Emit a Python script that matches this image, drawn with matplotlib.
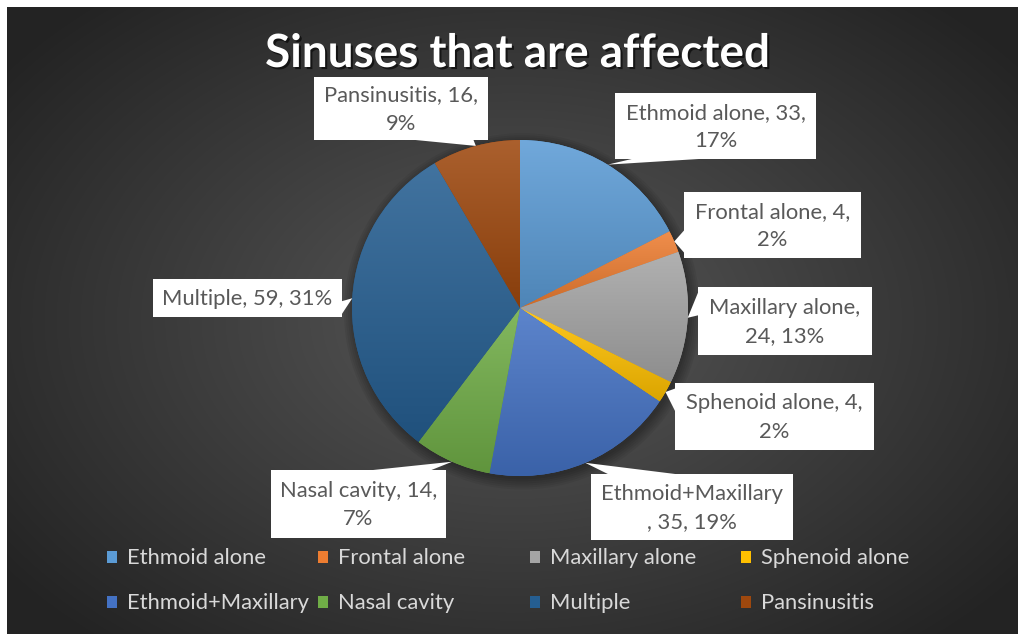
import numpy as np
import matplotlib
matplotlib.use('Agg')
import matplotlib.pyplot as plt
import matplotlib.patheffects as pe
from matplotlib.patches import Rectangle, Polygon, Circle
from matplotlib.colors import to_rgb

plt.rcParams['font.family'] = ['Lato', 'DejaVu Sans']

# data
categories = ['Ethmoid alone', 'Frontal alone', 'Maxillary alone', 'Sphenoid alone',
              'Ethmoid+Maxillary', 'Nasal cavity', 'Multiple', 'Pansinusitis']
counts = [33, 4, 24, 4, 35, 14, 59, 16]
percents = ['17%', '2%', '13%', '2%', '19%', '7%', '31%', '9%']
colors = ['#5B9BD5', '#ED7D31', '#A5A5A5', '#FFC000',
          '#4472C4', '#70AD47', '#255E91', '#9E480E']

# how each data label wraps (as in the picture)
label_texts = [
    'Ethmoid alone, 33,\n17%',
    'Frontal alone, 4,\n2%',
    'Maxillary alone,\n24, 13%',
    'Sphenoid alone, 4,\n2%',
    'Ethmoid+Maxillary\n, 35, 19%',
    'Nasal cavity, 14,\n7%',
    'Multiple, 59, 31%',
    'Pansinusitis, 16,\n9%',
]
# label boxes in pixels (x0, y0, x1, y1)
label_boxes = [
    (615, 93, 816, 159),
    (684, 192, 861, 258),
    (698, 287, 872, 355),
    (675, 383, 874, 450),
    (591, 474, 793, 540),
    (271, 470, 446, 538),
    (153, 279, 342, 317),
    (314, 77, 488, 140),
]

W, H = 1018, 634
fig = plt.figure(figsize=(W / 100, H / 100), dpi=100)
fig.patch.set_facecolor('white')

# background with radial gradient
bg = fig.add_axes([0, 0, 1, 1])
bg.axis('off')
yy, xx = np.mgrid[7:H, 7:W]
r = np.sqrt(((xx - 515) / 640) ** 2 + ((yy - 320) / 430) ** 2)
t = np.clip(r, 0, 1)[..., None]
inner = np.array([0x58] * 3) / 255
outer = np.array([0x23] * 3) / 255
bg.imshow(inner * (1 - t) + outer * t, extent=[7, W, H, 7], aspect='auto')
bg.set_xlim(0, W)
bg.set_ylim(H, 0)

# pie
cx, cy, R = 520, 308, 168
ax = fig.add_axes([(cx - R) / W, 1 - (cy + R) / H, 2 * R / W, 2 * R / H])
ax.set_zorder(1)
wedges, _ = ax.pie(counts, colors=colors, startangle=90, counterclock=False,
                   radius=1, wedgeprops=dict(linewidth=0))
for w, c in zip(wedges, colors):
    base = np.array(to_rgb(c))
    top = base + (1 - base) * 0.13
    bot = base * 0.86
    g = np.linspace(0, 1, 64)[:, None, None]
    grad = top * (1 - g) + bot * g
    ext = w.get_path().get_extents()
    im = ax.imshow(grad, extent=[ext.x0, ext.x1, ext.y0, ext.y1], origin='upper',
                   aspect='auto', interpolation='bilinear', zorder=2)
    im.set_clip_path(w)
# soft shadow under the pie
for k in range(6):
    ax.add_patch(Circle((0.012, -0.02), 1 + 0.012 * k, color='black',
                        alpha=0.06, zorder=0, linewidth=0))
ax.set_xlim(-1.1, 1.1)
ax.set_ylim(-1.1, 1.1)
ax.set_position([(cx - R * 1.1) / W, 1 - (cy + R * 1.1) / H, 2.2 * R / W, 2.2 * R / H])
ax.set_aspect('equal')
ax.axis('off')

# overlay in pixel coords
ov = fig.add_axes([0, 0, 1, 1])
ov.set_zorder(2)
ov.set_xlim(0, W)
ov.set_ylim(H, 0)
ov.axis('off')
ov.patch.set_alpha(0)


def callout(box, tip, text):
    x0, y0, x1, y1 = box
    bw, bh = x1 - x0, y1 - y0
    xc, yc = (x0 + x1) / 2, (y0 + y1) / 2
    dx, dy = tip[0] - xc, tip[1] - yc
    if abs(dy) * bw > abs(dx) * bh:
        ye = y1 if dy > 0 else y0
        if dx < 0:
            xa, xb = x0 + bw / 12, x0 + 5 * bw / 12
        else:
            xa, xb = x0 + 7 * bw / 12, x0 + 11 * bw / 12
        tri = [(xa, ye), (xb, ye), tip]
    else:
        xe = x1 if dx > 0 else x0
        if dy < 0:
            ya, yb = y0 + bh / 12, y0 + 5 * bh / 12
        else:
            ya, yb = y0 + 7 * bh / 12, y0 + 11 * bh / 12
        tri = [(xe, ya), (xe, yb), tip]
    ov.add_patch(Rectangle((x0, y0), bw, bh, facecolor='white', edgecolor='none'))
    ov.add_patch(Polygon(tri, closed=True, facecolor='white', edgecolor='none'))
    ov.text(xc, yc + 1, text, ha='center', va='center', fontsize=15.8,
            color='#595959', linespacing=1.55, multialignment='center')


fig.canvas.draw()
to_pix = ov.transData.inverted()
for w, box, txt in zip(wedges, label_boxes, label_texts):
    mid = np.deg2rad((w.theta1 + w.theta2) / 2)
    tip = to_pix.transform(ax.transData.transform((np.cos(mid), np.sin(mid))))
    callout(box, tuple(tip), txt)

# title
ov.text(518, 54, 'Sinuses that are affected', ha='center', va='center',
        fontsize=33, fontweight='bold', color='white',
        path_effects=[pe.withSimplePatchShadow(offset=(1.5, -1.5), shadow_rgbFace='black', alpha=0.6)])

# legend, 4 per row
leg_x = [107, 318, 530, 741]
leg_y = [557, 602]
for i, (name, c) in enumerate(zip(categories, colors)):
    lx, ly = leg_x[i % 4], leg_y[i // 4]
    ov.add_patch(Rectangle((lx, ly - 6), 10, 12, facecolor=c, edgecolor='none'))
    ov.text(lx + 20, ly + 1, name, ha='left', va='center', fontsize=15.8, color='#d9d9d9')

fig.savefig('out.png', dpi=100)
